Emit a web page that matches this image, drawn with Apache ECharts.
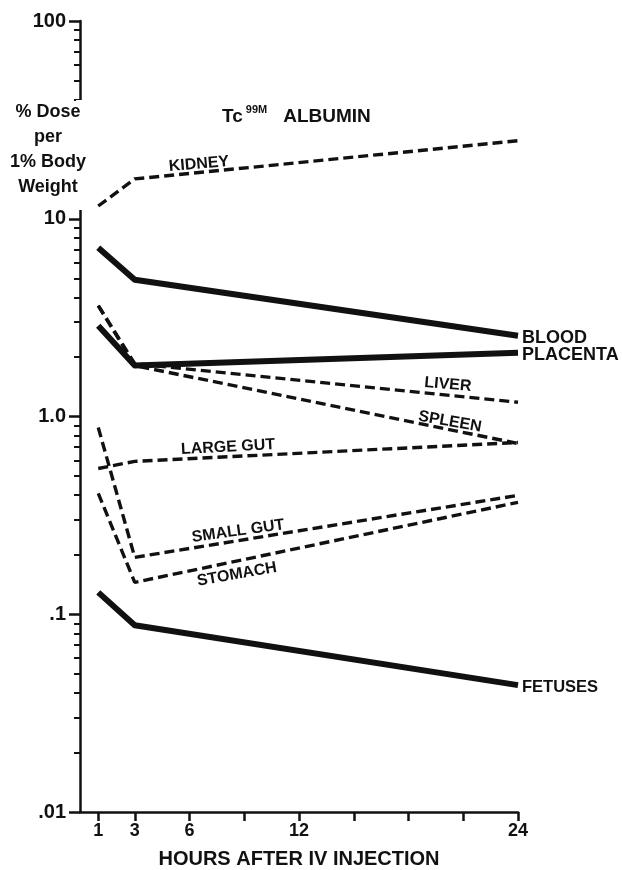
<!DOCTYPE html>
<html>
<head>
<meta charset="utf-8">
<script src="https://cdn.jsdelivr.net/npm/echarts@6/dist/echarts.min.js"></script>
<style>
html,body{margin:0;padding:0;background:#fff;}
#chart{width:622px;height:870px;}
</style>
</head>
<body>
<div id="chart"></div>
<script>
// ---- data ----
const hours = [1, 3, 24];
const kidney   = [11.6, 15.9, 24.8];
const blood    = [7.14, 4.92, 2.56];
const placenta = [2.88, 1.81, 2.10];
const liver    = [3.64, 1.85, 1.18];
const spleen   = [3.64, 1.81, 0.73];
const largeGut = [0.546, 0.593, 0.739];
const smallGut = [0.88, 0.194, 0.399];
const stomach  = [0.409, 0.145, 0.368];
const fetuses  = [0.129, 0.088, 0.0438];

const xTickValues  = [1, 3, 6, 9, 12, 15, 18, 21, 24];
const xLabelValues = [1, 3, 6, 12, 24];
const yLabelText = { '-2': '.01', '-1': '.1', '0': '1.0', '1': '10', '2': '100' };
const yMinorTicks = [0.02,0.03,0.04,0.05,0.06,0.07,0.08,0.09,
                     0.2,0.3,0.4,0.5,0.6,0.7,0.8,0.9,
                     2,3,4,5,6,7,8,9,
                     40,50,60,70,80,90];

// in-plot curve labels: name, hour, value
const annNames  = ['KIDNEY', 'LIVER', 'SPLEEN', 'LARGE GUT', 'SMALL GUT', 'STOMACH'];
const annHours  = [6.52, 20.16, 20.27, 8.11, 8.66, 8.6];
const annValues = [18.9, 1.45, 0.94, 0.70, 0.263, 0.159];
const annRotate = [5, -5, -10, 3, 8, 10];

const FONT = '"Liberation Sans", Arial, sans-serif';
const INK = '#111';

function pts(vals) { return hours.map((h, i) => [h, vals[i]]); }

function solid(name, vals, endText, size) {
  return {
    name, type: 'line', data: pts(vals), symbol: 'none', silent: true,
    lineStyle: { color: INK, width: 6, join: 'round' },
    endLabel: endText ? {
      show: true, formatter: endText, color: INK, fontFamily: FONT,
      fontWeight: 'bold', fontSize: size || 18, offset: [-1, 2], distance: 5
    } : undefined
  };
}
function dashed(name, vals) {
  return {
    name, type: 'line', data: pts(vals), symbol: 'none', silent: true,
    lineStyle: { color: INK, width: 3.4, type: [10, 5], cap: 'butt' }
  };
}

const chart = echarts.init(document.getElementById('chart'), null, { renderer: 'canvas' });
chart.setOption({
  animation: false,
  backgroundColor: '#fff',
  grid: { left: 80, right: 104, top: 21, bottom: 58, containLabel: false, outerBoundsMode: 'none' },
  xAxis: {
    type: 'value', min: 0, max: 24,
    splitLine: { show: false },
    axisLine: { show: true, lineStyle: { color: INK, width: 2.5 } },
    axisTick: { show: true, customValues: xTickValues, length: 9, lineStyle: { color: INK, width: 2.5 } },
    axisLabel: { customValues: xLabelValues, color: INK, fontFamily: FONT, fontWeight: 'bold', fontSize: 18, margin: 10 },
    name: 'HOURS AFTER IV INJECTION', nameLocation: 'middle', nameGap: 37,
    nameTextStyle: { color: INK, fontFamily: FONT, fontWeight: 'bold', fontSize: 20 }
  },
  yAxis: [{
    type: 'log', logBase: 10, min: 0.01, max: 100,
    splitLine: { show: false },
    axisLine: { show: true, lineStyle: { color: INK, width: 2.5 } },
    axisTick: { show: true, length: 11, lineStyle: { color: INK, width: 2.5 } },
    axisLabel: {
      color: INK, fontFamily: FONT, fontWeight: 'bold', fontSize: 20, margin: 14,
      formatter: v => yLabelText[String(Math.round(Math.log10(v)))] || ''
    }
  }, {
    type: 'log', logBase: 10, min: 0.01, max: 100, position: 'left',
    splitLine: { show: false },
    axisLine: { show: false },
    axisLabel: { show: false },
    axisTick: { show: true, customValues: yMinorTicks, length: 6, lineStyle: { color: INK, width: 2 } }
  }],
  graphic: [
    { type: 'rect', shape: { x: 76, y: 100, width: 8, height: 110 }, style: { fill: '#fff' }, z: 100 },
    { type: 'text', x: 48, y: 100, z: 101,
      style: { text: '% Dose\nper\n1% Body\nWeight', fill: INK, font: 'bold 18px ' + FONT,
               align: 'center', verticalAlign: 'top', lineHeight: 25 } },
    { type: 'text', x: 222, y: 104, z: 101,
      style: { text: '{a|Tc}{s|99M}{b|ALBUMIN}', fill: INK,
        rich: {
          a: { fontFamily: FONT, fontWeight: 'bold', fontSize: 19, lineHeight: 22, fill: INK, verticalAlign: 'bottom' },
          b: { fontFamily: FONT, fontWeight: 'bold', fontSize: 19, lineHeight: 22, fill: INK, verticalAlign: 'bottom', padding: [0, 0, 0, 16] },
          s: { fontFamily: FONT, fontWeight: 'bold', fontSize: 11, lineHeight: 22, fill: INK, verticalAlign: 'top', padding: [0, 0, 0, 3] }
        } } }
  ],
  series: [
    dashed('Kidney', kidney),
    solid('Blood', blood, 'BLOOD'),
    solid('Placenta', placenta, 'PLACENTA'),
    dashed('Liver', liver),
    dashed('Spleen', spleen),
    dashed('Large gut', largeGut),
    dashed('Small gut', smallGut),
    dashed('Stomach', stomach),
    solid('Fetuses', fetuses, 'FETUSES', 16.5),
    {
      name: 'labels', type: 'scatter', symbolSize: 0, silent: true, z: 5,
      data: annNames.map((n, i) => ({
        value: [annHours[i], annValues[i]],
        label: { show: true, formatter: n, rotate: annRotate[i] }
      })),
      label: { position: 'inside', color: INK, fontFamily: FONT, fontWeight: 'bold', fontSize: 16,
               textBorderWidth: 0, textBorderColor: 'transparent', opacity: 1 }
    }
  ]
});
</script>
</body>
</html>
